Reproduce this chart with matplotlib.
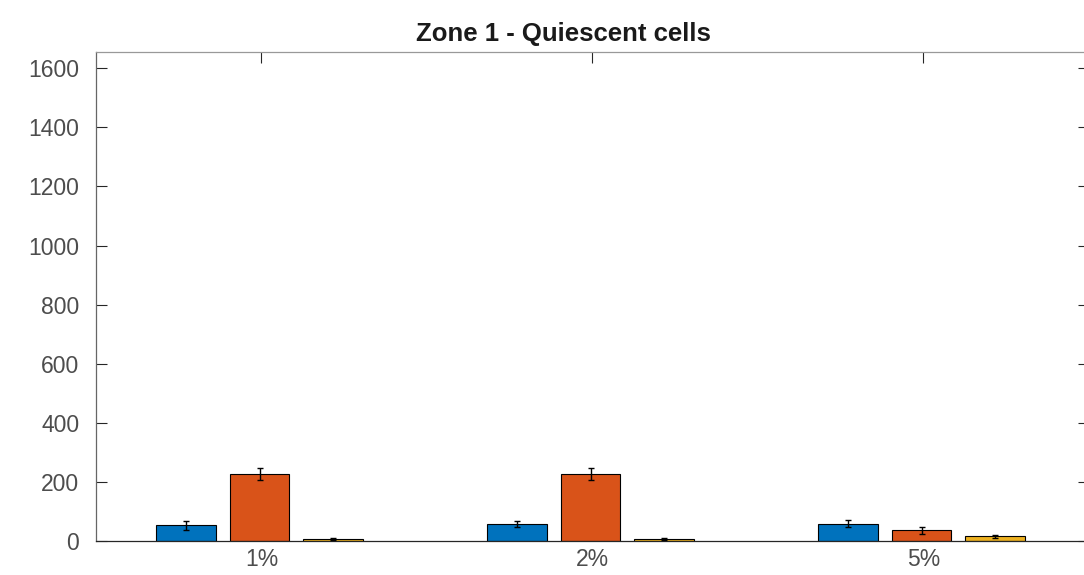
import matplotlib
matplotlib.use("Agg")
import matplotlib.pyplot as plt
import numpy as np

# oxygen levels and mean cell counts per group (three conditions per level)
levels = ["1%", "2%", "5%"]
series_a = [53, 59, 59]
series_b = [228, 228, 36]
series_c = [8, 7, 16]
err_a = [15, 10, 12]
err_b = [20, 20, 12]
err_c = [3, 3, 5]

colors = ["#0072BD", "#D95319", "#EDB120"]

plt.rcParams["font.family"] = ["Liberation Sans", "DejaVu Sans"]

fig = plt.figure(figsize=(10.84, 5.75), dpi=100)
ax = fig.add_axes([96 / 1084, 34 / 575, 993 / 1084, 489 / 575])

x = np.arange(1, len(levels) + 1)
width = 0.18
offset = 0.222
for k, (vals, errs) in enumerate(zip([series_a, series_b, series_c],
                                     [err_a, err_b, err_c])):
    pos = x + (k - 1) * offset - 0.006
    ax.bar(pos, vals, width=width, color=colors[k], edgecolor="black",
           linewidth=0.8, zorder=2)
    ax.errorbar(pos, vals, yerr=errs, fmt="none", ecolor="black",
                elinewidth=1.0, capsize=2, capthick=1.0, zorder=3)

ax.set_xlim(0.5, 3.5)
ax.set_ylim(0, 1655)
ax.set_xticks(x)
ax.set_xticklabels(levels)
ax.set_yticks(np.arange(0, 1601, 200))

ax.tick_params(axis="both", direction="in", length=8, width=0.8,
               colors="#262626", labelcolor="#4d4d4d", labelsize=16.5,
               top=True, right=True)
ax.tick_params(axis="y", pad=12)
ax.tick_params(axis="x", pad=5)
for side in ["left", "right", "top", "bottom"]:
    ax.spines[side].set_color("#262626")
    ax.spines[side].set_linewidth(0.9)
ax.spines["top"].set_color("#999999")
ax.spines["left"].set_color("#666666")

ax.set_title("Zone 1 - Quiescent cells", fontsize=18.5, fontweight="bold",
             color="#1a1a1a", pad=8, x=0.471)

fig.savefig("out.png", dpi=100)
